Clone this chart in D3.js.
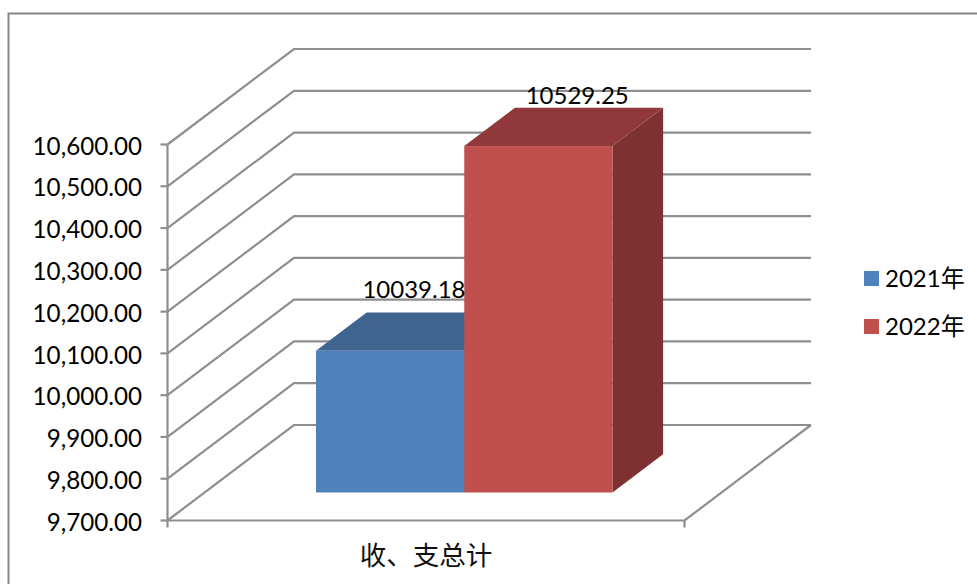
<!DOCTYPE html>
<html><head><meta charset="utf-8">
<script src="https://cdn.jsdelivr.net/npm/d3@7"></script>
<style>html,body{margin:0;padding:0;background:#fff}svg{display:block}</style>
</head><body><svg id="c" width="977" height="584"></svg>
<script>
const categories = ["收、支总计"];
const seriesNames = ["2021年", "2022年"];
const values2021 = [10039.18];
const values2022 = [10529.25];
const tickValues = [9700, 9800, 9900, 10000, 10100, 10200, 10300, 10400, 10500, 10600];
const seriesColors = {
  "2021年": {front: "#4F81BD", top: "#3F6490", side: "#3A5C85"},
  "2022年": {front: "#C0504D", top: "#91393A", side: "#7D3130"}
};

const svg = d3.select("#c");
const FONT = "Lato, 'Noto Sans CJK SC', sans-serif";
const GRID = "#8E8E8E";

// Front-plane value scale and wall depth offsets
const y = d3.scaleLinear().domain([9700, 10600]).range([520.5, 144.5]);
const xFront = d3.scaleBand().domain(categories).range([167.5, 684.5]);
const depthX = d3.scaleLinear().domain([0, 1]).range([0, 126.5]);
const depthY = d3.scaleLinear().domain([0, 1]).range([0, -95.5]);

// Chart frame (open at right and bottom)
svg.append("path").attr("d", "M8.5,584V13.5H977")
  .attr("fill", "none").attr("stroke", "#868686").attr("stroke-width", 2);

const x0 = xFront.range()[0], x1 = xFront.range()[1];
const g = svg.append("g").attr("fill", "none").attr("stroke", GRID).attr("stroke-width", 2.2);

// Gridlines: side wall + back wall
tickValues.forEach(v => {
  const yy = y(v);
  g.append("path").attr("d", d3.line()([
    [x0, yy],
    [x0 + depthX(1), yy + depthY(1)],
    [x1 + depthX(1), yy + depthY(1)]
  ]));
  g.append("line").attr("x1", x0 - 7).attr("x2", x0).attr("y1", yy).attr("y2", yy);
});
// Axes, floor
g.append("line").attr("x1", x0).attr("x2", x0).attr("y1", y(10600)).attr("y2", y(9700) + 7);
g.append("path").attr("d", d3.line()([
  [x0, y(9700)], [x1, y(9700)], [x1 + depthX(1), y(9700) + depthY(1)]
]));
g.append("line").attr("x1", x1).attr("x2", x1).attr("y1", y(9700)).attr("y2", y(9700) + 7);

// Tick labels
svg.append("g").selectAll("text").data(tickValues).join("text")
  .attr("x", 142).attr("y", d => y(d) + 1.5).attr("dy", "0.36em")
  .attr("text-anchor", "end").attr("font-family", FONT).attr("font-size", 24.2).attr("fill", "#000")
  .text(d => d3.format(",.2f")(d));

// Bars
const barDepth = 0.4;
const barFloorShift = 28;
const xBar = d3.scaleBand().domain(seriesNames).range([316, 612.5]);
const barData = [
  {name: seriesNames[0], value: values2021[0]},
  {name: seriesNames[1], value: values2022[0]}
];
const bars = svg.append("g");
barData.forEach(d => {
  const c = seriesColors[d.name];
  const l = xBar(d.name), r = l + xBar.bandwidth();
  const b = y(9700) - barFloorShift, t = y(d.value) - barFloorShift;
  const dx = depthX(barDepth), dy = depthY(barDepth);
  bars.append("polygon").attr("fill", c.side)
    .attr("points", [[r, b], [r, t], [r + dx, t + dy], [r + dx, b + dy]].join(" "));
  bars.append("polygon").attr("fill", c.top)
    .attr("points", [[l, t], [l + dx, t + dy], [r + dx, t + dy], [r, t]].join(" "));
  bars.append("rect").attr("fill", c.front)
    .attr("x", l).attr("y", t).attr("width", r - l).attr("height", b - t);
});

// Data labels
const labelOffsets = {"2021年": [98, -53], "2022年": [113, -42]};
svg.append("g").selectAll("text").data(barData).join("text")
  .attr("x", d => xBar(d.name) + labelOffsets[d.name][0])
  .attr("y", d => y(d.value) - barFloorShift + labelOffsets[d.name][1])
  .attr("text-anchor", "middle").attr("font-family", FONT).attr("font-size", 24).attr("fill", "#000")
  .text(d => d.value.toFixed(2));

// Category label
svg.append("text").attr("x", 426).attr("y", 565).attr("text-anchor", "middle")
  .attr("font-family", "'Noto Sans CJK SC', sans-serif").attr("font-size", 26.5).attr("fill", "#111")
  .text(categories[0]);

// Legend
const legendY = d3.scaleBand().domain(seriesNames).range([255, 351]);
const legend = svg.append("g").selectAll("g").data(seriesNames).join("g")
  .attr("transform", d => `translate(864,${legendY(d) + legendY.bandwidth() / 2})`);
legend.append("rect").attr("x", 0).attr("y", -8).attr("width", 15).attr("height", 15)
  .attr("fill", d => seriesColors[d].front);
legend.append("text").attr("x", 21).attr("y", -1).attr("dy", "0.36em").attr("font-family", FONT)
  .attr("font-size", 24).attr("fill", "#000").text(d => d);
</script></body></html>
